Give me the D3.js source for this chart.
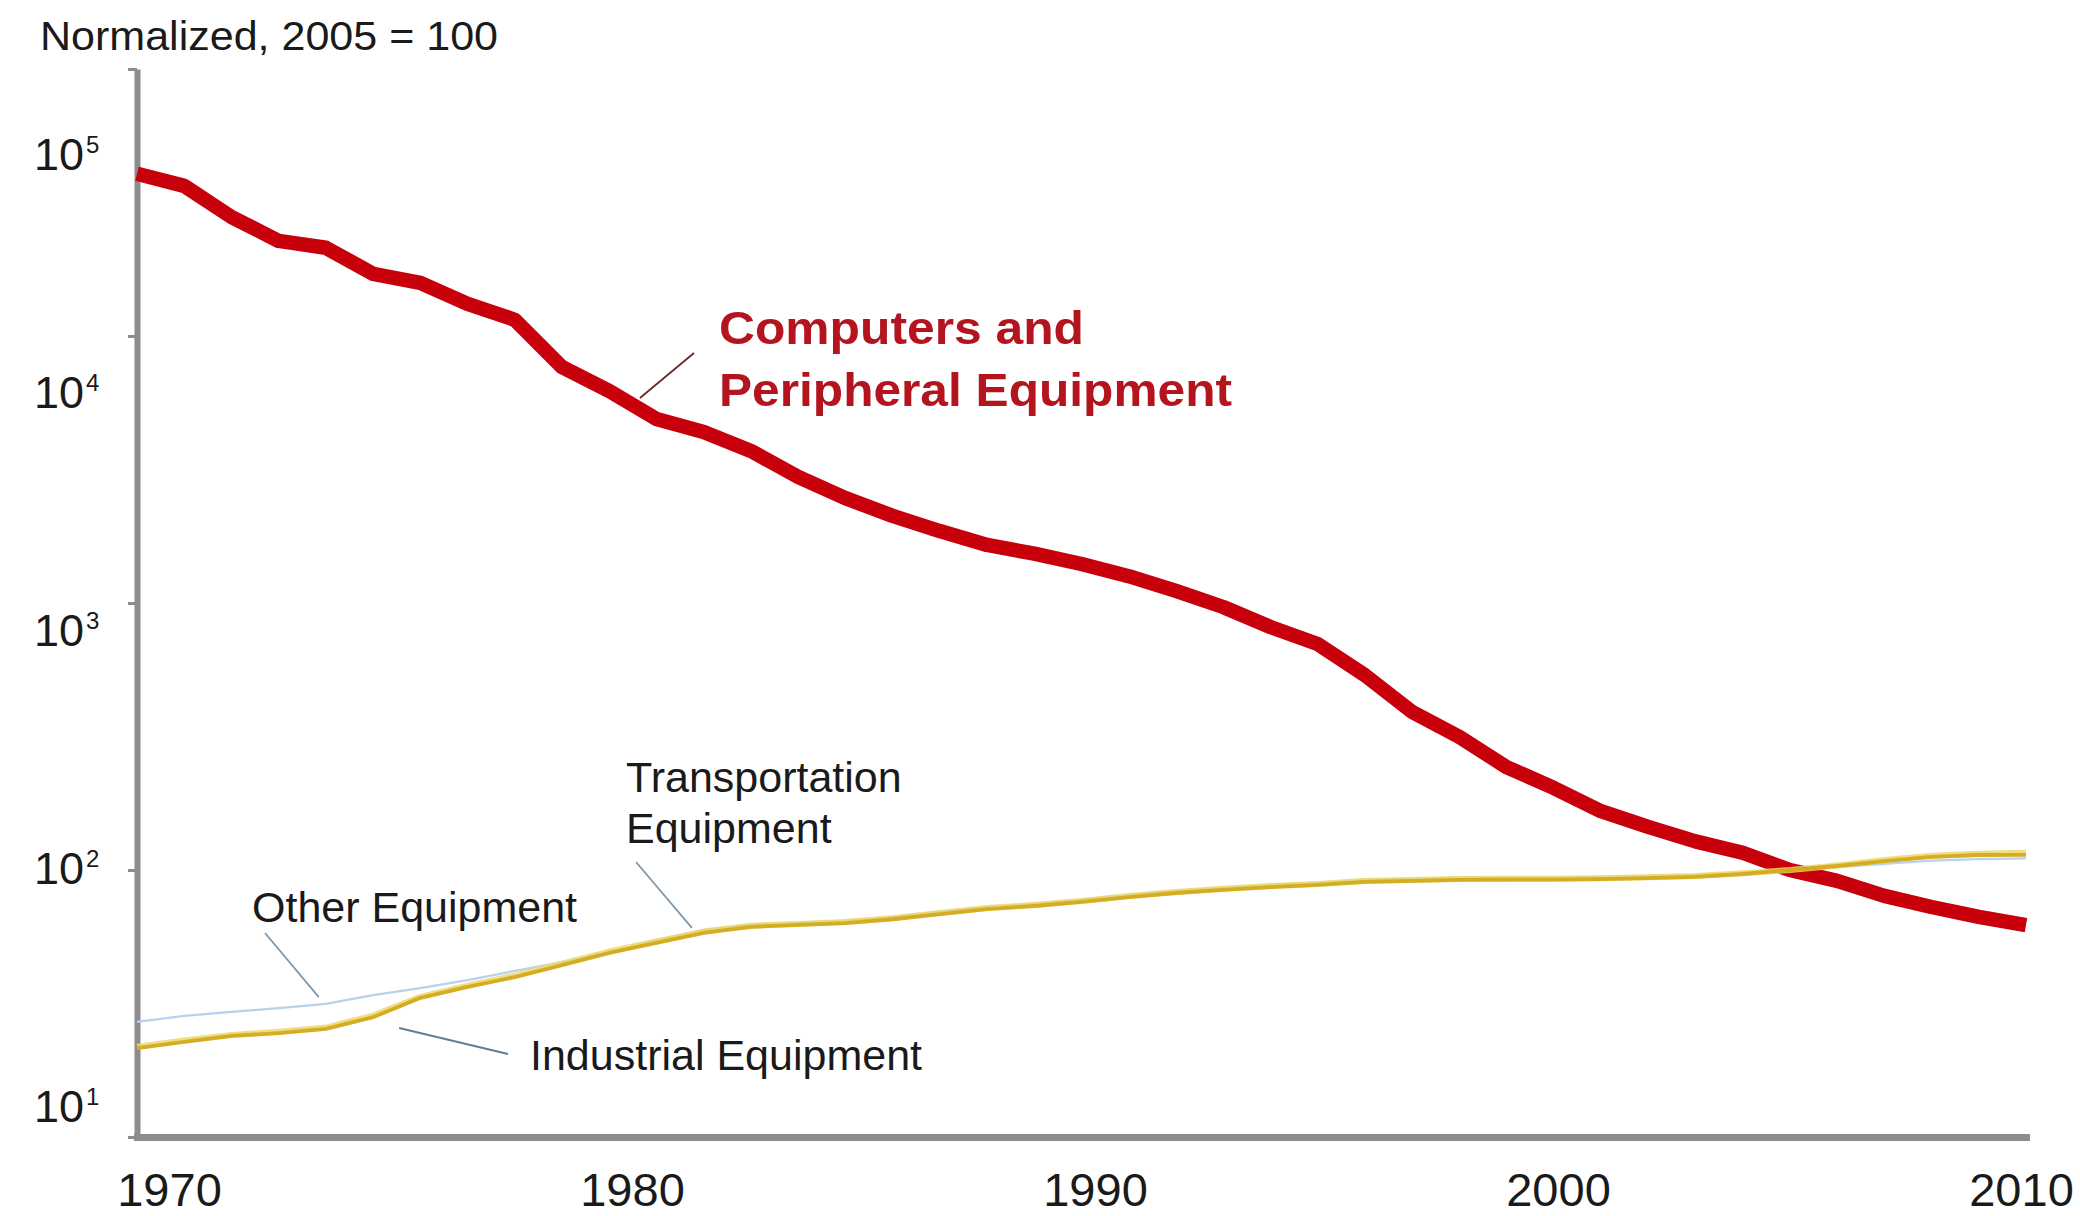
<!DOCTYPE html>
<html>
<head>
<meta charset="utf-8">
<script src="https://cdn.jsdelivr.net/npm/d3@7/dist/d3.min.js"></script>
<style>
  html, body { margin: 0; padding: 0; background: #ffffff; }
  svg { display: block; }
  text { font-family: "Liberation Sans", Arial, Helvetica, sans-serif; }
</style>
</head>
<body>
<svg id="chart" width="2080" height="1216"></svg>
<script>
// Price indexes by equipment type, normalized so that 2005 = 100
const years = [1970, 1971, 1972, 1973, 1974, 1975, 1976, 1977, 1978, 1979,
               1980, 1981, 1982, 1983, 1984, 1985, 1986, 1987, 1988, 1989,
               1990, 1991, 1992, 1993, 1994, 1995, 1996, 1997, 1998, 1999,
               2000, 2001, 2002, 2003, 2004, 2005, 2006, 2007, 2008, 2009, 2010];

const computers = [40500, 36500, 27900, 22700, 21400, 17100, 15800, 13200, 11500, 7650,
                   6220, 4890, 4370, 3710, 2970, 2470, 2120, 1860, 1650, 1530,
                   1400, 1260, 1110, 966, 813, 702, 537, 391, 315, 243,
                   203, 166, 145, 128, 116, 100, 91, 80, 72.7, 66.7, 62.2];

const industrial = [21.5, 22.7, 23.9, 24.5, 25.4, 28.1, 33.2, 36.5, 39.7, 44.0,
                    48.9, 53.3, 58.1, 61.2, 62.3, 63.3, 65.4, 68.4, 71.4, 73.3,
                    75.9, 79.2, 82.0, 84.2, 86.3, 87.9, 90.2, 91.0, 91.8, 92.0,
                    92.0, 92.5, 93.3, 94.2, 96.6, 100, 103.5, 108, 112, 113.8, 114];

const transportation = [21.8, 23.0, 24.1, 24.8, 25.7, 28.5, 33.5, 36.9, 40.2, 44.6,
                        49.5, 54.0, 58.8, 61.8, 62.8, 63.9, 66.0, 69.0, 72.0, 74.0,
                        76.5, 79.9, 82.8, 85.0, 87.1, 88.7, 90.9, 91.8, 92.6, 92.8,
                        92.8, 93.2, 94.0, 95.0, 97.2, 100, 104, 109, 113, 115, 116];

const other = [27.0, 28.4, 29.4, 30.4, 31.5, 34.0, 36.1, 38.7, 41.9, 45.2,
               49.3, 54.7, 59.6, 62.4, 63.5, 64.6, 66.7, 69.8, 72.8, 74.8,
               77.4, 80.8, 83.6, 85.9, 88.0, 89.7, 92.0, 92.8, 93.6, 93.8,
               93.8, 94.3, 95.0, 95.8, 97.5, 100, 102.5, 105.5, 108.5, 109.8, 110.5];

const yearLabels = [1970, 1980, 1990, 2000, 2010];
const powerLabels = [1, 2, 3, 4, 5];   // exponents of ten shown on the value axis

const svg = d3.select("#chart");

// scales
const x = d3.scaleLinear().domain([1970, 2010]).range([137, 2026]);
const y = d3.scaleLog().domain([10, 1e5]).range([1137, 69]);

// tick labels are set evenly inside the axis span
const xLabel = d3.scaleLinear().domain([1970, 2010]).range([169, 2021]);
const yLabel = d3.scaleLinear().domain([1, 5]).range([1122, 170]);

const AXIS_GREY = "#8c8c8c";

// value axis (log)
const yAxis = svg.append("g")
  .attr("transform", `translate(${x(1970)},0)`)
  .call(d3.axisLeft(y)
    .tickValues(powerLabels.map(p => Math.pow(10, p)))
    .tickSize(9)
    .tickSizeOuter(0)
    .tickFormat(""));
yAxis.select(".domain").attr("stroke", AXIS_GREY).attr("stroke-width", 6);
yAxis.selectAll(".tick line").attr("stroke", AXIS_GREY).attr("stroke-width", 3);

// time axis
const xAxis = svg.append("g")
  .attr("transform", `translate(0,${y(10)})`)
  .call(d3.axisBottom(x).tickValues([]).tickSizeOuter(0));
xAxis.select(".domain")
  .attr("stroke", AXIS_GREY)
  .attr("stroke-width", 7)
  .attr("stroke-linecap", "square");

// year labels
const xl = svg.append("g")
  .attr("transform", "translate(0,1206)")
  .call(d3.axisBottom(xLabel).tickValues(yearLabels).tickSize(0).tickPadding(0).tickFormat(d3.format("d")));
xl.select(".domain").remove();
xl.selectAll("text")
  .attr("y", 0).attr("dy", 0)
  .attr("font-size", 47)
  .attr("fill", "#1a1a1a")
  .style("font-family", '"Liberation Sans", Arial, sans-serif');

// power-of-ten labels
const yl = svg.append("g");
powerLabels.forEach(p => {
  const t = yl.append("text")
    .attr("x", 34)
    .attr("y", yLabel(p))
    .attr("font-size", 45)
    .attr("fill", "#1a1a1a");
  t.append("tspan").text("10");
  t.append("tspan").attr("dx", 2).attr("dy", -17).attr("font-size", 24).text(p);
});

// unit caption
svg.append("text")
  .attr("x", 40).attr("y", 50)
  .attr("font-size", 41)
  .attr("fill", "#1a1a1a")
  .attr("textLength", 458)
  .attr("lengthAdjust", "spacingAndGlyphs")
  .text("Normalized, 2005 = 100");

// series
const line = values => d3.line()
  .x((d, i) => x(years[i]))
  .y(d => y(d))
  .curve(d3.curveLinear)(values);

svg.append("path")
  .attr("d", line(other))
  .attr("fill", "none")
  .attr("stroke", "#b8d2ec")
  .attr("stroke-width", 2.2)
  .attr("stroke-linejoin", "round");

svg.append("path")
  .attr("d", line(computers))
  .attr("fill", "none")
  .attr("stroke", "#c8000c")
  .attr("stroke-width", 14.5)
  .attr("stroke-linejoin", "round")
  .attr("stroke-linecap", "butt");

svg.append("path")
  .attr("d", line(transportation))
  .attr("fill", "none")
  .attr("stroke", "#ecd86a")
  .attr("stroke-width", 6)
  .attr("stroke-opacity", 0.85)
  .attr("stroke-linejoin", "round");

svg.append("path")
  .attr("d", line(industrial))
  .attr("fill", "none")
  .attr("stroke", "#d2a81c")
  .attr("stroke-width", 3.8)
  .attr("stroke-opacity", 0.92)
  .attr("stroke-linejoin", "round");

// annotations
const leader = (x1, y1, x2, y2, color) =>
  svg.append("line")
    .attr("x1", x1).attr("y1", y1).attr("x2", x2).attr("y2", y2)
    .attr("stroke", color).attr("stroke-width", 1.8);

leader(694, 353, x(1980.65), y(5860), "#6a2a2a");
const comp = svg.append("text")
  .attr("font-size", 47)
  .attr("font-weight", "bold")
  .attr("fill", "#b3141e");
comp.append("tspan").attr("x", 719).attr("y", 344).attr("textLength", 365).attr("lengthAdjust", "spacingAndGlyphs").text("Computers and");
comp.append("tspan").attr("x", 719).attr("y", 406).attr("textLength", 513).attr("lengthAdjust", "spacingAndGlyphs").text("Peripheral Equipment");

leader(636, 862, x(1981.75), y(60.7), "#7d98ad");
const trans = svg.append("text").attr("font-size", 43).attr("fill", "#1a1a1a");
trans.append("tspan").attr("x", 626).attr("y", 792).text("Transportation");
trans.append("tspan").attr("x", 626).attr("y", 843).text("Equipment");

leader(265, 933, x(1973.85), y(33.4), "#7d98ad");
svg.append("text")
  .attr("x", 252).attr("y", 922)
  .attr("font-size", 43).attr("fill", "#1a1a1a")
  .text("Other Equipment");

leader(508, 1054, x(1975.55), y(25.6), "#5f7f98");
svg.append("text")
  .attr("x", 530).attr("y", 1070)
  .attr("font-size", 43).attr("fill", "#1a1a1a")
  .text("Industrial Equipment");
</script>
</body>
</html>
